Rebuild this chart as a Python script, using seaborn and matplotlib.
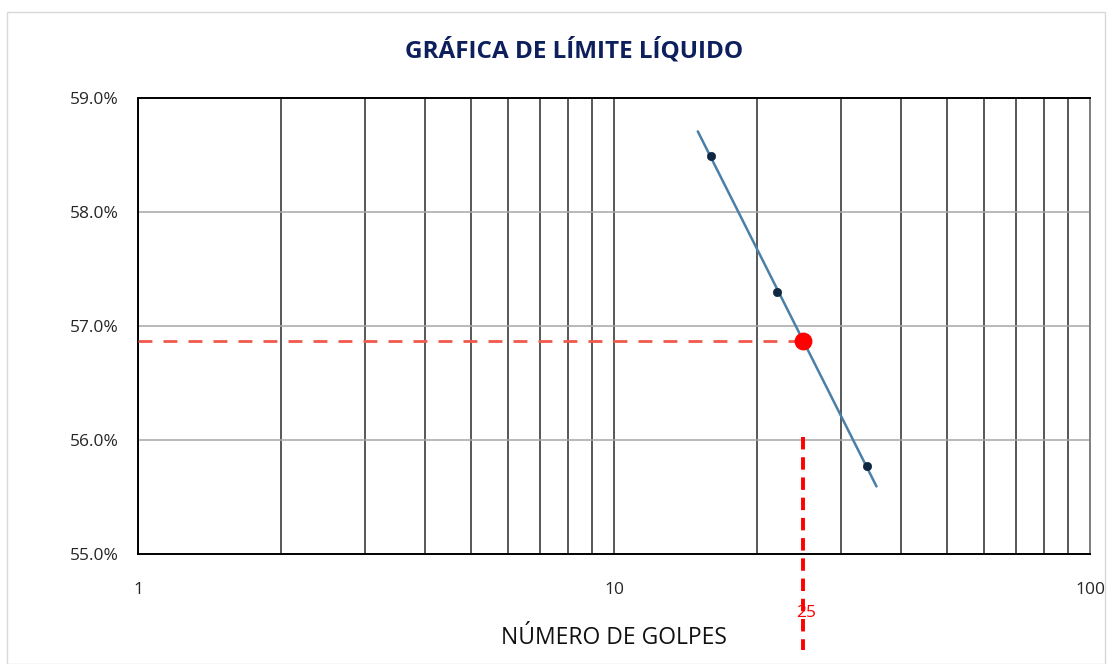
import numpy as np
import pandas as pd
import matplotlib
matplotlib.use("Agg")
import matplotlib.pyplot as plt
from matplotlib.ticker import FixedLocator, FuncFormatter, NullFormatter
import seaborn as sns

# Ensayo de límite líquido: número de golpes y contenido de humedad (%)
golpes = [16, 22, 34]
humedad = [58.49, 57.30, 55.77]

# Límite líquido leído a 25 golpes
golpes_ll = 25
humedad_ll = 56.87

# Extensión de la línea de tendencia logarítmica
tendencia_golpes = [15.0, 35.6]

y_ticks = [55.0, 56.0, 57.0, 58.0, 59.0]
x_ticks = [1, 10, 100]

sns.set_theme(style="white")
plt.rcParams["font.family"] = ["Open Sans", "DejaVu Sans"]

fig = plt.figure(figsize=(11.12, 6.64), dpi=100)
ax = fig.add_axes([138 / 1112, 1 - 554 / 664, (1090 - 138) / 1112, (554 - 98) / 664])

# Borde exterior del gráfico
fig.patches.append(plt.Rectangle((7 / 1112, 0), 1 - 14 / 1112, 1 - 12 / 664,
                                 transform=fig.transFigure, fill=False,
                                 edgecolor="#d9d9d9", linewidth=1.0))

ax.set_xscale("log")
ax.set_xlim(1, 100)
ax.set_ylim(55.0, 59.0)

# Cuadrícula: verticales en cada entero, horizontales en cada 1 %
ax.xaxis.set_major_locator(FixedLocator(x_ticks))
ax.xaxis.set_minor_locator(FixedLocator([v * d for d in (1, 10) for v in range(2, 10)]))
ax.xaxis.set_minor_formatter(NullFormatter())
ax.xaxis.set_major_formatter(FuncFormatter(lambda v, p: f"{v:g}"))
ax.yaxis.set_major_locator(FixedLocator(y_ticks))
ax.yaxis.set_major_formatter(FuncFormatter(lambda v, p: f"{v:.1f}%"))

ax.grid(which="minor", axis="x", color="#2a2a2a", linewidth=1.1)
ax.grid(which="major", axis="x", color="#2a2a2a", linewidth=1.1)
ax.grid(which="major", axis="y", color="#a6a6a6", linewidth=1.1)
ax.set_axisbelow(True)

for side in ("left", "bottom", "top"):
    ax.spines[side].set_color("black")
    ax.spines[side].set_linewidth(1.4)
ax.spines["right"].set_color("#808080")
ax.spines["right"].set_linewidth(1.4)

ax.tick_params(axis="both", which="both", length=0, labelsize=12.5, colors="#262626")
ax.tick_params(axis="x", pad=20)
ax.tick_params(axis="y", pad=14)

# Línea de tendencia logarítmica ajustada a los puntos
coef = np.polyfit(np.log10(golpes), humedad, 1)
tx = np.array(tendencia_golpes)
trend = pd.DataFrame({"golpes": tx, "humedad": np.polyval(coef, np.log10(tx))})
sns.lineplot(data=trend, x="golpes", y="humedad", ax=ax, color="#4a7fa8", linewidth=1.8)

# Puntos del ensayo
datos = pd.DataFrame({"golpes": golpes, "humedad": humedad})
sns.scatterplot(data=datos, x="golpes", y="humedad", ax=ax, color="#0f2740",
                s=36, edgecolor="#0f2740", zorder=4)

# Líneas de lectura del límite líquido
ax.plot([1, golpes_ll], [humedad_ll, humedad_ll], color="#ef5a4a", linewidth=2.0,
        dashes=(5, 4), zorder=3)
ax.plot([golpes_ll, golpes_ll], [56.03, 54.16], color="#ff0000", linewidth=2.8,
        dashes=(3.2, 2.0), clip_on=False, zorder=3)
ax.scatter([golpes_ll], [humedad_ll], s=140, color="#ff0000", zorder=5)
ax.text(golpes_ll * 1.012, 54.48, f"{golpes_ll}", color="#ff0000", fontsize=12.5,
        ha="center", va="center")

ax.set_xlabel("NÚMERO DE GOLPES", fontsize=16.5, color="#111111", labelpad=20)
ax.set_ylabel("")
fig.text(0.516, 1 - 51 / 664, "GRÁFICA DE LÍMITE LÍQUIDO", ha="center", va="center",
         fontsize=17.5, fontweight="bold", color="#0d1f5c")

fig.savefig("out.png", dpi=100)
